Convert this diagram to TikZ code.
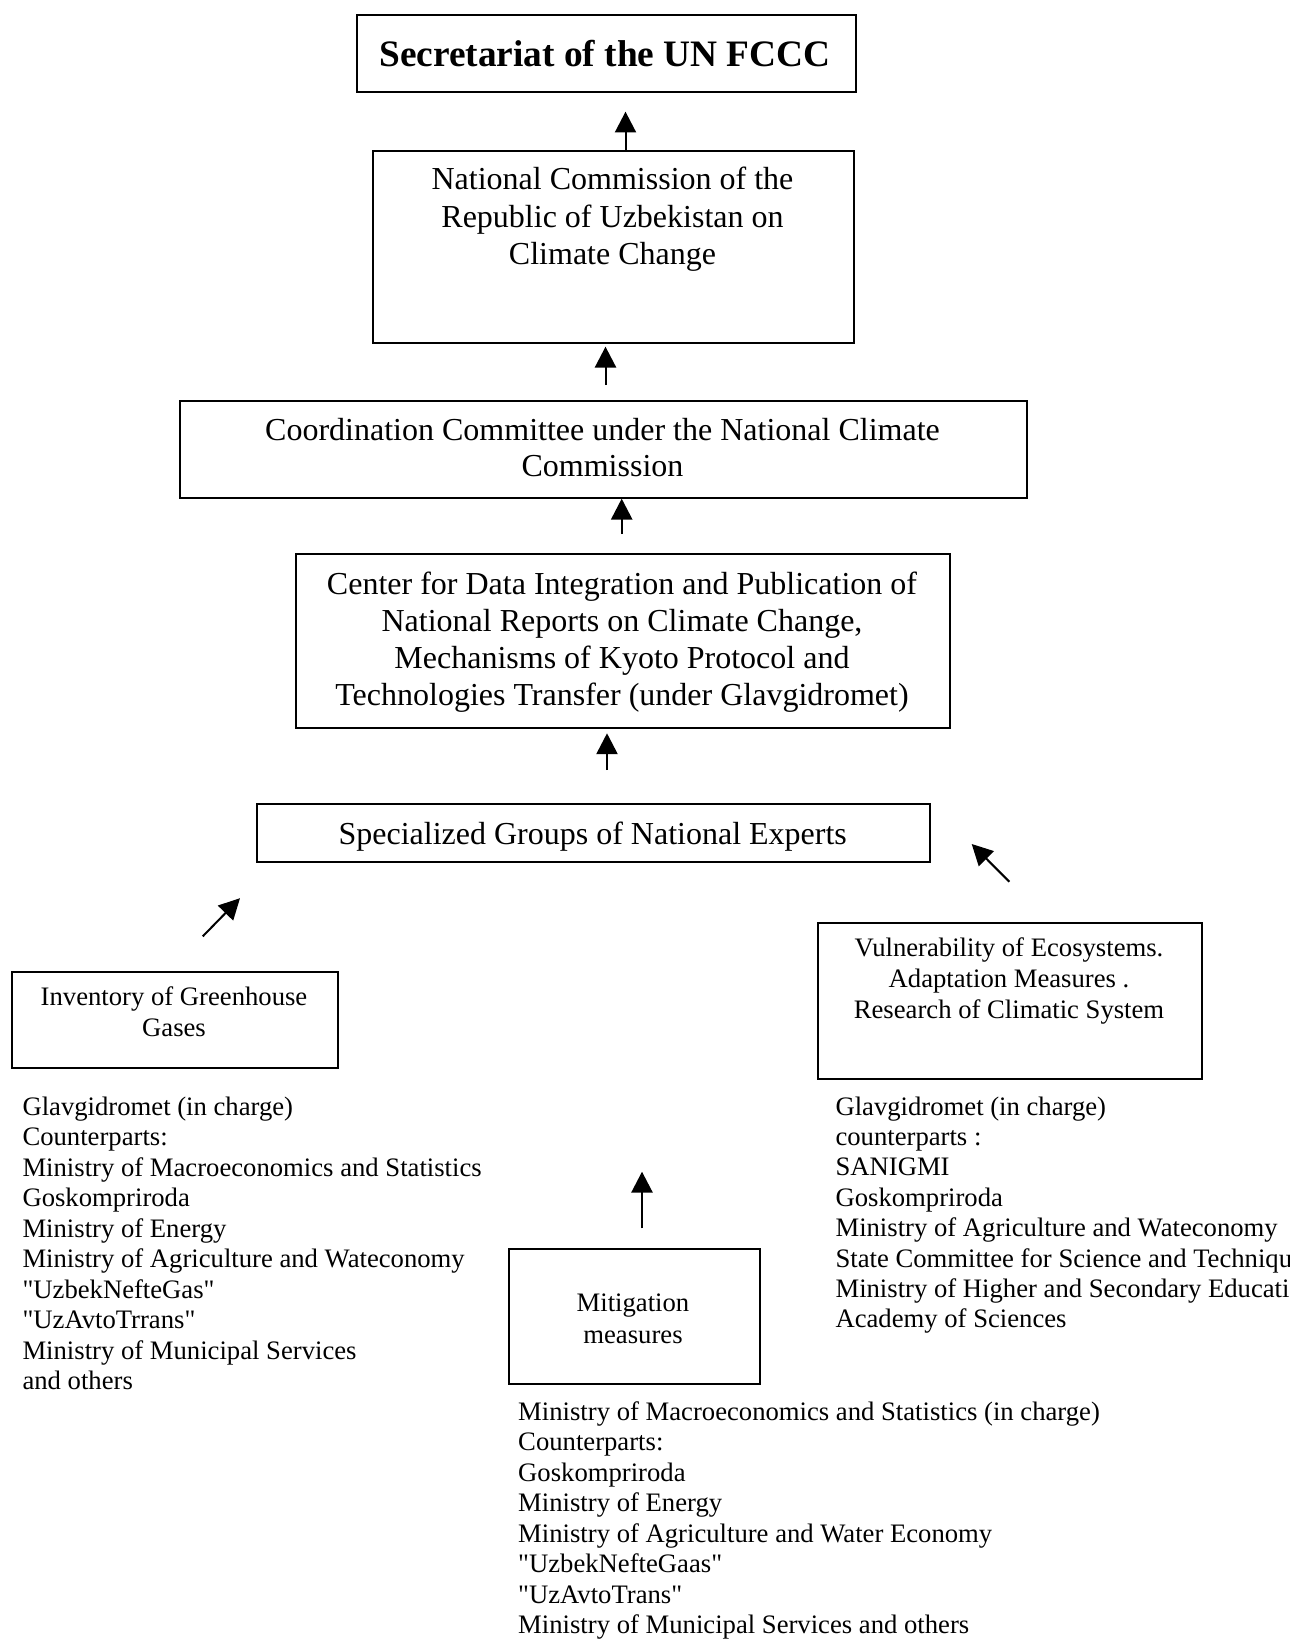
\documentclass[tikz,border=0pt]{standalone}
\usepackage{fontspec}
\setmainfont{Liberation Serif}[Ligatures=TeXOff]
\usetikzlibrary{arrows.meta}
\newcommand{\bx}[5]{\node[box, minimum width={(#4-#2)*0.375pt}, minimum height={(#5-#3)*0.375pt}] (#1) at (#2,#3) {};}
\begin{document}
\begin{tikzpicture}[x=0.375pt,y=-0.375pt,
  box/.style={draw, line width=0.75pt, inner sep=0pt, anchor=north west},
  arr/.style={line width=0.75pt, -{Triangle[width=7.9pt,length=7.8pt]}},
  title/.style={font=\fontsize{14}{16}\selectfont\bfseries, anchor=base, inner sep=0pt},
  big/.style={font=\fontsize{12}{14}\selectfont, anchor=base, inner sep=0pt},
  small/.style={font=\fontsize{10}{11.5}\selectfont, anchor=base, inner sep=0pt},
  lst/.style={font=\fontsize{10}{11.5}\selectfont, anchor=base west, inner sep=0pt},
]
\useasboundingbox (0,0) rectangle (1290,1640);

% boxes
\bx{sec}{355.5}{14}{855}{90.7}
\bx{nc}{372}{150}{853}{342.3}
\bx{coord}{179.4}{400}{1025.6}{496.7}
\bx{center}{295}{553.3}{949}{726.7}
\bx{spec}{256}{803.3}{929.4}{861}
\bx{inv}{10.7}{971}{337.3}{1066.8}
\bx{vuln}{816.7}{921.7}{1201}{1078.3}
\bx{mit}{507.8}{1248.3}{758.8}{1382.7}

% box texts
\node[title] (sect) at (605,67) {Secretariat of the UN FCCC};
\foreach \t [count=\i from 0] in {{National Commission of the},{Republic of Uzbekistan on},{Climate Change}}
  \node[big] (nct\i) at (612.5,{190+\i*37.5}) {\t};
\foreach \t [count=\i from 0] in {{Coordination Committee under the National Climate},{Commission}}
  \node[big] (coordt\i) at (602.5,{440.7+\i*36}) {\t};
\foreach \t [count=\i from 0] in {{Center for Data Integration and Publication of},{National Reports on Climate Change,},{Mechanisms of Kyoto Protocol and},{Technologies Transfer (under Glavgidromet)}}
  \node[big] (centert\i) at (622,{594+\i*37}) {\t};
\node[big] (spect) at (592.7,844) {Specialized Groups of National Experts};
\foreach \t [count=\i from 0] in {{Inventory of Greenhouse},{Gases}}
  \node[small] (invt\i) at (174,{1005+\i*31.4}) {\t};
\foreach \t [count=\i from 0] in {{Vulnerability of Ecosystems.},{Adaptation Measures .},{Research of Climatic System}}
  \node[small] (vulnt\i) at (1009,{956+\i*31}) {\t};
\foreach \t [count=\i from 0] in {{Mitigation},{measures}}
  \node[small] (mitt\i) at (633,{1311.7+\i*31.6}) {\t};

% lists
\foreach \t [count=\i from 0] in {{Glavgidromet (in charge)},{Counterparts:},{Ministry of Macroeconomics and Statistics},{Goskompriroda},{Ministry of Energy},{Ministry of Agriculture and Wateconomy},{"UzbekNefteGas"},{"UzAvtoTrrans"},{Ministry of Municipal Services},{and others}}
  \node[lst] (la\i) at (22,{1115+\i*30.55}) {\t};
\foreach \t [count=\i from 0] in {{Glavgidromet (in charge)},{counterparts :},{SANIGMI},{Goskompriroda},{Ministry of Agriculture and Wateconomy},{State Committee for Science and Technique},{Ministry of Higher and Secondary Education},{Academy of Sciences}}
  \node[lst] (lb\i) at (835,{1115+\i*30.4}) {\t};
\foreach \t [count=\i from 0] in {{Ministry of Macroeconomics and Statistics (in charge)},{Counterparts:},{Goskompriroda},{Ministry of Energy},{Ministry of Agriculture and Water Economy},{"UzbekNefteGaas"},{"UzAvtoTrans"},{Ministry of Municipal Services and others}}
  \node[lst] (lc\i) at (517.7,{1420+\i*30.5}) {\t};

% arrows
\coordinate (a1) at (625.5,111.7);
\draw[arr] (nc.north -| a1) -- (a1);
\coordinate (a2s) at (605.5,385);
\coordinate (a2e) at (605.5,346.7);
\draw[arr] (a2s) -- (a2e);
\coordinate (a3s) at (621.7,534);
\draw[arr] (a3s) -- (a3s |- coord.south);
\coordinate (a4s) at (607,770);
\coordinate (a4e) at (607,733.3);
\draw[arr] (a4s) -- (a4e);
\coordinate (a5s) at (642,1228.3);
\coordinate (a5e) at (642,1171.7);
\draw[arr] (a5s) -- (a5e);
\coordinate (a6s) at (202.7,936.4);
\coordinate (a6e) at (240,898.2);
\draw[arr] (a6s) -- (a6e);
\coordinate (a7s) at (1009.3,881.7);
\coordinate (a7e) at (971.7,844);
\draw[arr] (a7s) -- (a7e);
\end{tikzpicture}
\end{document}
